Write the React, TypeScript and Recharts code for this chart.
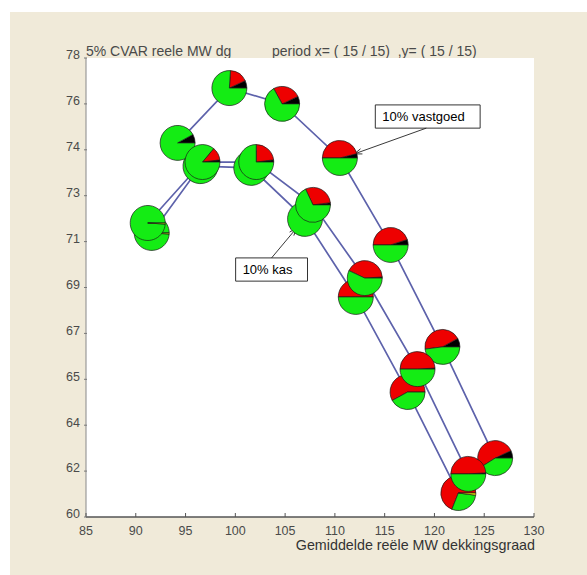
import React from 'react';
import {
  ComposedChart,
  Scatter,
  XAxis,
  YAxis,
  CartesianGrid,
  ReferenceArea,
  ReferenceLine,
  Sector,
} from 'recharts';

const FONT = '"Liberation Sans", Arial, sans-serif';

const xTicks = [85, 90, 95, 100, 105, 110, 115, 120, 125, 130];
const yTicks = [60, 61.8, 63.6, 65.4, 67.2, 69, 70.8, 72.6, 74.4, 76.2, 78];

// slice order: black, red, green, yellow (counter-clockwise from 3 o'clock)
const sliceColors = ['#000000', '#ee0000', '#14ec14', '#ffff00'];

// outer path (10% vastgoed)
const xVastgoed = [94.2, 99.4, 104.7, 110.5, 115.6, 120.8, 126.1];
const yVastgoed = [74.67, 76.82, 76.2, 74.08, 70.67, 66.67, 62.31];
const piesVastgoed = [
  [0.08, 0, 0.92, 0],
  [0.07, 0.17, 0.76, 0],
  [0.07, 0.26, 0.67, 0],
  [0.04, 0.46, 0.5, 0],
  [0.05, 0.45, 0.5, 0],
  [0.08, 0.44, 0.48, 0],
  [0.07, 0.52, 0.41, 0],
];

// middle path
const xMidden = [91.2, 96.7, 102.1, 107.8, 113.0, 118.3, 123.4];
const yMidden = [71.53, 73.92, 73.92, 72.24, 69.37, 65.8, 61.69];
const piesMidden = [
  [0, 0, 0.99, 0.01],
  [0.02, 0.12, 0.86, 0],
  [0.02, 0.23, 0.75, 0],
  [0.02, 0.3, 0.68, 0],
  [0.01, 0.42, 0.57, 0],
  [0.01, 0.49, 0.5, 0],
  [0.01, 0.49, 0.5, 0],
];

// lower path (10% kas)
const xKas = [91.6, 96.5, 101.6, 107.0, 112.1, 117.3, 122.4];
const yKas = [71.14, 73.76, 73.69, 71.69, 68.63, 64.9, 60.94];
const piesKas = [
  [0, 0, 0.99, 0.01],
  [0.02, 0.1, 0.88, 0],
  [0, 0.02, 0.98, 0],
  [0, 0.05, 0.95, 0],
  [0, 0.5, 0.5, 0],
  [0, 0.58, 0.42, 0],
  [0, 0.69, 0.29, 0.02],
];

const toPoints = (xs: number[], ys: number[], pies: number[][]) =>
  xs.map((x, i) => ({ x, y: ys[i], slices: pies[i] }));

const vastgoed = toPoints(xVastgoed, yVastgoed, piesVastgoed);
const midden = toPoints(xMidden, yMidden, piesMidden);
const kas = toPoints(xKas, yKas, piesKas);

const LINE = '#5d62ab';
const R = 17.5;

function PieMark(props: any) {
  const { cx, cy, payload } = props;
  if (cx == null || cy == null || !payload) return <g />;
  const total = payload.slices.reduce((a: number, b: number) => a + b, 0);
  let angle = 0;
  const parts: React.ReactNode[] = [];
  payload.slices.forEach((v: number, i: number) => {
    if (v <= 0) return;
    const span = (v / total) * 360;
    parts.push(
      <Sector
        key={i}
        cx={cx}
        cy={cy}
        innerRadius={0}
        outerRadius={R}
        startAngle={angle}
        endAngle={angle + span}
        fill={sliceColors[i]}
        stroke="#1b1b1b"
        strokeWidth={0.7}
      />
    );
    angle += span;
  });
  return <g>{parts}</g>;
}

function Arrow(props: any) {
  const { x1, y1, x2, y2 } = props;
  const a = Math.atan2(y2 - y1, x2 - x1);
  const h = 8;
  const w = 0.35;
  return (
    <g stroke="#222" strokeWidth={0.9} fill="none">
      <line x1={x1} y1={y1} x2={x2} y2={y2} />
      <line x1={x2} y1={y2} x2={x2 - h * Math.cos(a - w)} y2={y2 - h * Math.sin(a - w)} />
      <line x1={x2} y1={y2} x2={x2 - h * Math.cos(a + w)} y2={y2 - h * Math.sin(a + w)} />
    </g>
  );
}

function YTick(props: any) {
  const { x, y, payload } = props;
  return (
    <g>
      <line x1={x + 4} x2={x + 7} y1={y} y2={y} stroke="#777" />
      <text x={x} y={y - 3} dy="0.35em" textAnchor="end" fill="#4a4a4a" fontSize={12.5} fontFamily={FONT}>
        {Math.round(payload.value)}
      </text>
    </g>
  );
}

function XTick(props: any) {
  const { x, y, payload } = props;
  return (
    <g>
      <line x1={x} x2={x} y1={y - 9} y2={y - 13} stroke="#555" />
      <text x={x} y={y} dy="0.71em" textAnchor="middle" fill="#4a4a4a" fontSize={12.5} fontFamily={FONT}>
        {payload.value}
      </text>
    </g>
  );
}

export default function App() {
  return (
    <div style={{ position: 'absolute', left: 0, top: 0, width: 587, height: 575, background: '#fff', overflow: 'hidden' }}>
      <div style={{ position: 'absolute', left: 10, top: 12, width: 577, height: 563, background: '#f0ead9' }} />
      <div
        style={{
          position: 'absolute',
          left: 86,
          top: 44,
          fontFamily: FONT,
          fontSize: 14,
          lineHeight: '15px',
          color: '#4a4a4a',
          whiteSpace: 'pre',
        }}
      >
        5% CVAR reele MW dg
      </div>
      <div
        style={{
          position: 'absolute',
          left: 272,
          top: 44,
          fontFamily: FONT,
          fontSize: 14,
          lineHeight: '15px',
          color: '#4a4a4a',
          whiteSpace: 'pre',
        }}
      >
        {'period x= ( 15 / 15)  ,y= ( 15 / 15)'}
      </div>
      <div
        style={{
          position: 'absolute',
          right: 52,
          top: 537,
          fontFamily: FONT,
          fontSize: 14.3,
          lineHeight: '16px',
          color: '#333',
          whiteSpace: 'pre',
        }}
      >
        Gemiddelde reële MW dekkingsgraad
      </div>
      <div style={{ position: 'absolute', left: 0, top: 0 }}>
        <ComposedChart width={587} height={575} margin={{ top: 58, right: 53, bottom: 28, left: 46 }}>
          <CartesianGrid horizontal={false} vertical={false} fill="#ffffff" />
          <XAxis
            type="number"
            dataKey="x"
            domain={[85, 130]}
            ticks={xTicks}
            allowDataOverflow
            height={30}
            tickSize={0}
            tickMargin={9}
            tick={<XTick />}
            axisLine={{ stroke: '#555', strokeWidth: 1.6 }}
          />
          <YAxis
            type="number"
            dataKey="y"
            domain={[60, 78]}
            ticks={yTicks}
            allowDataOverflow
            width={40}
            tickSize={0}
            tickMargin={6}
            tick={<YTick />}
            axisLine={{ stroke: '#888', strokeWidth: 1 }}
          />
          <Scatter data={vastgoed} line={{ stroke: LINE, strokeWidth: 1.7 }} lineType="joint" shape={() => <g />} isAnimationActive={false} />
          <Scatter data={midden} line={{ stroke: LINE, strokeWidth: 1.7 }} lineType="joint" shape={() => <g />} isAnimationActive={false} />
          <Scatter data={kas} line={{ stroke: LINE, strokeWidth: 1.7 }} lineType="joint" shape={() => <g />} isAnimationActive={false} />
          <Scatter data={kas} shape={<PieMark />} isAnimationActive={false} />
          <Scatter data={vastgoed} shape={<PieMark />} isAnimationActive={false} />
          <Scatter data={midden} shape={<PieMark />} isAnimationActive={false} />
          <ReferenceArea
            x1={114.06}
            x2={124.59}
            y1={75.25}
            y2={76.16}
            fill="#fff"
            fillOpacity={1}
            stroke="#333"
            strokeWidth={1}
            label={{ value: '10% vastgoed', position: 'insideLeft', offset: 7, fill: '#000', fontSize: 13, fontFamily: FONT }}
          />
          <ReferenceLine
            segment={[{ x: 119.18, y: 75.25 }, { x: 111.96, y: 74.24 }]}
            shape={(p: any) => <Arrow {...p} />}
          />
          <ReferenceArea
            x1={100.03}
            x2={107.25}
            y1={69.25}
            y2={70.16}
            fill="#fff"
            fillOpacity={1}
            stroke="#333"
            strokeWidth={1}
            label={{ value: '10% kas', position: 'insideLeft', offset: 7, fill: '#000', fontSize: 13, fontFamily: FONT }}
          />
          <ReferenceLine
            segment={[{ x: 103.64, y: 70.16 }, { x: 106.15, y: 71.33 }]}
            shape={(p: any) => <Arrow {...p} />}
          />
        </ComposedChart>
      </div>
    </div>
  );
}
